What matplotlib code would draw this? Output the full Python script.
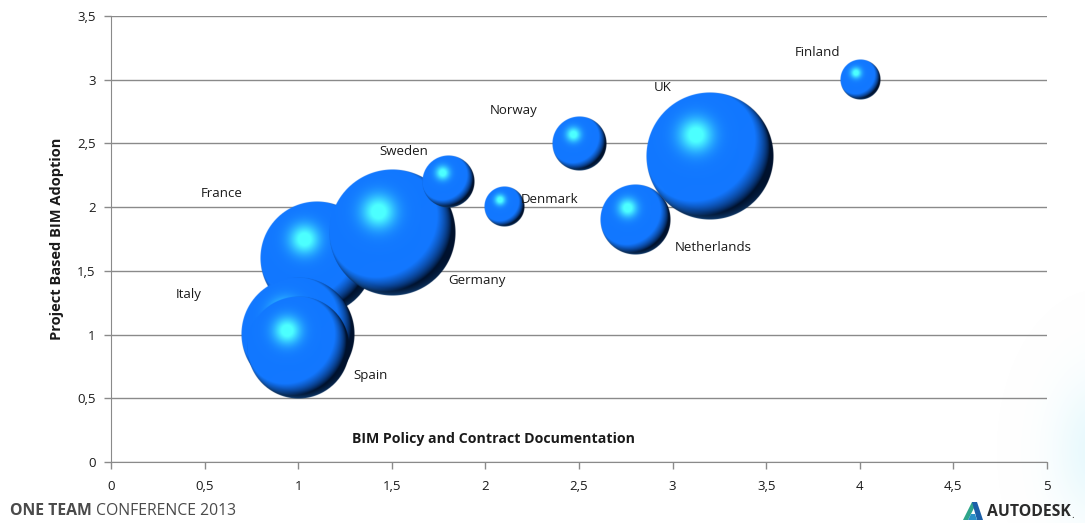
import numpy as np
import matplotlib
matplotlib.use("Agg")
import matplotlib.pyplot as plt
from matplotlib.patches import Polygon

# data
countries = ['France', 'Germany', 'Italy', 'Spain', 'Sweden', 'Denmark',
             'Norway', 'Netherlands', 'UK', 'Finland']
policy = [1.1, 1.5, 1.0, 1.0, 1.8, 2.1, 2.5, 2.8, 3.2, 4.0]
adoption = [1.6, 1.8, 1.0, 0.9, 2.2, 2.0, 2.5, 1.9, 2.4, 3.0]
bubble_size = [79, 97, 79, 64, 17, 10, 18, 30, 100, 10]
x_ticks = [0, 0.5, 1, 1.5, 2, 2.5, 3, 3.5, 4, 4.5, 5]
y_ticks = [0, 0.5, 1, 1.5, 2, 2.5, 3, 3.5]

# label offsets in pixels (style only)
label_offsets = {
    'Finland': (-42, 27), 'UK': (-47, 69), 'Norway': (-65, 33),
    'Sweden': (-44, 30), 'France': (-95, 65), 'Italy': (-110, 40),
    'Denmark': (45, 8), 'Netherlands': (78, -28), 'Germany': (85, -48),
    'Spain': (72, -28),
}

W, H = 1085, 523
fig = plt.figure(figsize=(W / 100, H / 100), dpi=100)
fig.patch.set_facecolor('white')

# faint blue glow at the bottom right corner
bg = fig.add_axes([0, 0, 1, 1], zorder=-10)
bg.axis('off')
gy, gx = np.mgrid[0:H, 0:W]
glow = np.exp(-(((gx - 1100) / 45.0) ** 2 + ((gy - 450) / 70.0) ** 2))
img = np.ones((H, W, 4))
img[..., 0] = 0.88
img[..., 1] = 0.97
img[..., 2] = 0.99
img[..., 3] = glow * 0.8
bg.imshow(img, extent=(0, W, H, 0), aspect='auto')
bg.set_xlim(0, W)
bg.set_ylim(H, 0)

left, right, top, bottom = 111, 1047, 16, 462
ax = fig.add_axes([left / W, 1 - bottom / H, (right - left) / W, (bottom - top) / H])
ax.set_xlim(0, 5)
ax.set_ylim(0, 3.5)
ax.patch.set_alpha(0)

grid_c = '#8a8a8a'
ax.set_yticks(y_ticks)
ax.set_xticks(x_ticks)
fmt = lambda v: ('%g' % v).replace('.', ',')
ax.set_yticklabels([fmt(v) for v in y_ticks])
ax.set_xticklabels([fmt(v) for v in x_ticks])
ax.yaxis.grid(True, color=grid_c, linewidth=1.0)
ax.set_axisbelow(True)
for s in ['top', 'right']:
    ax.spines[s].set_visible(False)
for s in ['left', 'bottom']:
    ax.spines[s].set_color(grid_c)
ax.tick_params(axis='both', colors=grid_c, length=5, width=1, labelcolor='#1a1a1a',
               labelsize=9.5)
ax.tick_params(axis='y', pad=6)
ax.tick_params(axis='x', pad=8)
for lab in ax.get_xticklabels() + ax.get_yticklabels():
    lab.set_fontfamily('Open Sans')

ax.set_ylabel('Project Based BIM Adoption', fontsize=10.5, fontweight='bold',
              fontfamily='Open Sans', color='#1a1a1a')
ax.yaxis.set_label_coords(-0.050, 0.5)
ax.set_xlabel('BIM Policy and Contract Documentation', fontsize=10.2, fontweight='bold',
              fontfamily='Open Sans', color='#1a1a1a')
ax.xaxis.set_label_coords(0.409, 0.068)


def sphere_image(n):
    yy, xx = np.mgrid[1:-1:n * 1j, -1:1:n * 1j]
    d2 = xx ** 2 + yy ** 2
    d = np.sqrt(d2)
    nz = np.sqrt(np.clip(1 - d2, 0, 1))
    L = np.array([-0.35, 0.35, 0.87])
    L = L / np.linalg.norm(L)
    diff = np.clip(xx * L[0] + yy * L[1] + nz * L[2], 0, 1)
    base = np.array([0.07, 0.47, 1.0])
    dark = np.array([0.0, 0.07, 0.18])
    cyan = np.array([0.3, 1.0, 1.0])
    t = np.clip(diff / 0.42, 0, 1) ** 0.9
    col = dark + (base - dark) * t[..., None]
    # slight purple tint towards lower right
    pt = np.clip((xx - yy) / 2.0, 0, 1) * np.clip(d - 0.4, 0, 1) * t
    col = col * (1 - 0.25 * pt[..., None]) + np.array([0.25, 0.35, 1.0]) * 0.25 * pt[..., None]
    # rim light at the bottom
    rim = np.clip((d - 0.88) / 0.12, 0, 1) * np.clip(-yy - 0.4, 0, 1)
    col = col * (1 - 0.5 * rim[..., None]) + np.array([0.2, 0.6, 1.0]) * 0.5 * rim[..., None]
    # soft cyan highlight
    h = np.exp(-((xx + 0.22) ** 2 + (yy - 0.33) ** 2) / (2 * 0.2 ** 2))
    h = np.clip(h * 1.15, 0, 1) ** 1.2
    col = col * (1 - h[..., None]) + cyan * h[..., None]
    out = np.zeros((n, n, 4))
    out[..., :3] = col
    out[..., 3] = np.clip((1 - d) * n / 2, 0, 1)
    return out


px_x = (right - left) / 5.0
px_y = (bottom - top) / 3.5
r_max = 64.0
for i, (c, x, y, s) in enumerate(zip(countries, policy, adoption, bubble_size)):
    r = r_max * np.sqrt(s / max(bubble_size))
    n = int(r * 4)
    rx, ry = r / px_x, r / px_y
    ax.imshow(sphere_image(n), extent=(x - rx, x + rx, y - ry, y + ry),
              aspect='auto', zorder=3 + i, interpolation='antialiased')
    dx, dy = label_offsets[c]
    ax.annotate(c, (x, y), xytext=(dx, dy), textcoords='offset pixels',
                ha='center', va='center', fontsize=9.5, fontfamily='Open Sans',
                color='#1a1a1a', zorder=20)
ax.set_xlim(0, 5)
ax.set_ylim(0, 3.5)

# footer
renderer = fig.canvas.get_renderer()
t1 = fig.text(10 / W, 1 - 511 / H, 'ONE TEAM', fontsize=11.3, fontweight='bold',
              fontfamily='Open Sans', color='#4a4a4a', va='center', ha='left')
bb = t1.get_window_extent(renderer)
fig.text((bb.x1 + 4) / W, 1 - 511 / H, 'CONFERENCE 2013', fontsize=11.3,
         fontfamily='Open Sans', color='#4a4a4a', va='center', ha='left')

# autodesk mark
def fpt(px, py):
    return (px / W, 1 - py / H)

fig.patches.append(Polygon([fpt(963, 520), fpt(972, 502), fpt(977, 502), fpt(968, 520)],
                           closed=True, facecolor='#2fa58a', edgecolor='none',
                           transform=fig.transFigure))
fig.patches.append(Polygon([fpt(972, 502), fpt(977, 502), fpt(983, 520), fpt(977, 520)],
                           closed=True, facecolor='#1b5fa8', edgecolor='none',
                           transform=fig.transFigure))
fig.patches.append(Polygon([fpt(968, 520), fpt(971, 514), fpt(975, 514), fpt(977, 520)],
                           closed=True, facecolor='#2a8fc8', edgecolor='none',
                           transform=fig.transFigure))
t2 = fig.text(987 / W, 1 - 512 / H, 'AUTODESK', fontsize=11.3, fontweight='bold',
              fontfamily='Open Sans', color='#2b2b2b', va='center', ha='left')
bb2 = t2.get_window_extent(renderer)
fig.text((bb2.x1 + 1) / W, 1 - 516 / H, '.', fontsize=7, fontfamily='Open Sans',
         color='#2b2b2b', va='center', ha='left')

fig.savefig('out.png', dpi=100)
